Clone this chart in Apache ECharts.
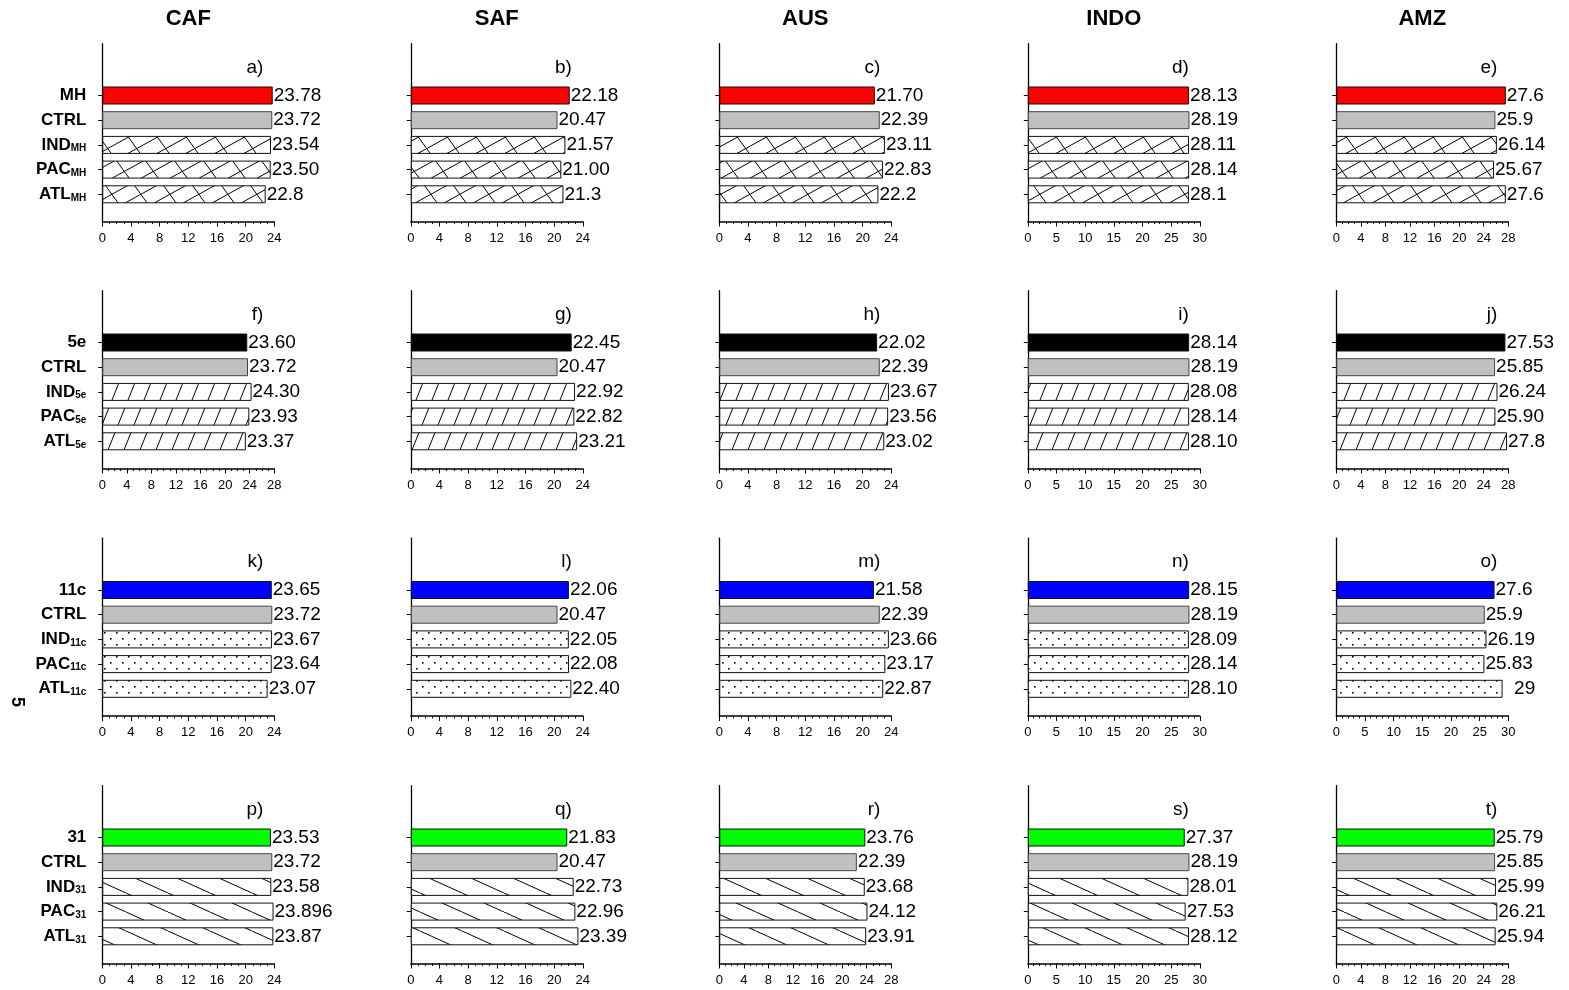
<!DOCTYPE html>
<html>
<head>
<meta charset="utf-8">
<script src="https://cdn.jsdelivr.net/npm/echarts@6/dist/echarts.min.js"></script>
<style>
  html, body { margin: 0; padding: 0; background: #fff; }
  #chart { width: 1569px; height: 990px; }
</style>
</head>
<body>
<div id="chart"></div>
<script>
const regions = ['CAF', 'SAF', 'AUS', 'INDO', 'AMZ']
const experiments = ['MH', '5e', '11c', '31']
const panelLetters = 'abcdefghijklmnopqrst'.split('')

// bar values as printed next to each bar: [exp, CTRL, IND, PAC, ATL] per region
const valuesMH = [
  ['23.78', '23.72', '23.54', '23.50', '22.8'],
  ['22.18', '20.47', '21.57', '21.00', '21.3'],
  ['21.70', '22.39', '23.11', '22.83', '22.2'],
  ['28.13', '28.19', '28.11', '28.14', '28.1'],
  ['27.6', '25.9', '26.14', '25.67', '27.6']
]
const values5e = [
  ['23.60', '23.72', '24.30', '23.93', '23.37'],
  ['22.45', '20.47', '22.92', '22.82', '23.21'],
  ['22.02', '22.39', '23.67', '23.56', '23.02'],
  ['28.14', '28.19', '28.08', '28.14', '28.10'],
  ['27.53', '25.85', '26.24', '25.90', '27.8']
]
const values11c = [
  ['23.65', '23.72', '23.67', '23.64', '23.07'],
  ['22.06', '20.47', '22.05', '22.08', '22.40'],
  ['21.58', '22.39', '23.66', '23.17', '22.87'],
  ['28.15', '28.19', '28.09', '28.14', '28.10'],
  ['27.6', '25.9', '26.19', '25.83', '  29']
]
const values31 = [
  ['23.53', '23.72', '23.58', '23.896', '23.87'],
  ['21.83', '20.47', '22.73', '22.96', '23.39'],
  ['23.76', '22.39', '23.68', '24.12', '23.91'],
  ['27.37', '28.19', '28.01', '27.53', '28.12'],
  ['25.79', '25.85', '25.99', '26.21', '25.94']
]
const rowValues = [valuesMH, values5e, values11c, values31]

// x axis maximum of each panel
const axisMax = [
  [24, 24, 24, 30, 28],
  [28, 24, 24, 30, 28],
  [24, 24, 24, 30, 30],
  [24, 24, 28, 30, 28]
]

const expColors = ['#ff0000', '#000000', '#0000ff', '#00ff00']
const ctrlColor = '#c0c0c0'
const hatchKinds = ['cross', 'slash', 'dots', 'back']

// layout
const colLeft = c => 102.3 + 308.5 * c
const plotWidth = 172
const firstBarY = [95.5, 342.5, 590, 837.5]
const slot = 24.7
const unit = slot / 5
const nCats = 36
const barIdx = [10, 15, 20, 25, 30]
const font = "'Liberation Sans', Arial, Helvetica, sans-serif"

// hatch fills
function makePattern(kind) {
  const cv = document.createElement('canvas')
  let w, h
  if (kind === 'cross') { w = 29; h = 80 }
  else if (kind === 'slash') { w = 16; h = 40 }
  else if (kind === 'dots') { w = 12; h = 12 }
  else { w = 42; h = 19 }
  cv.width = w
  cv.height = h
  const ctx = cv.getContext('2d')
  ctx.fillStyle = '#fff'
  ctx.fillRect(0, 0, w, h)
  ctx.strokeStyle = '#000'
  ctx.fillStyle = '#000'
  ctx.lineWidth = 1
  const lines = (shift, rising) => {
    for (let k = -8; k <= 8; k++) {
      const x0 = k * w
      ctx.beginPath()
      if (rising) { ctx.moveTo(x0, h); ctx.lineTo(x0 + shift, 0) }
      else { ctx.moveTo(x0, 0); ctx.lineTo(x0 + shift, h) }
      ctx.stroke()
    }
  }
  if (kind === 'cross') {
    lines(2 * w, false)
    lines(5 * w, true)
  } else if (kind === 'slash') {
    lines(w, true)
  } else if (kind === 'back') {
    lines(w, false)
  } else {
    ctx.fillRect(2, 2, 1.6, 1.6)
    ctx.fillRect(8, 8, 1.6, 1.6)
  }
  return { image: cv, repeat: 'repeat' }
}
const patterns = hatchKinds.map(makePattern)

const catNames = r => {
  const s = experiments[r]
  return ['{n|' + s + '}', '{n|CTRL}', '{n|IND}{s|' + s + '}', '{n|PAC}{s|' + s + '}', '{n|ATL}{s|' + s + '}']
}

const grids = []
const xAxes = []
const yAxes = []
const series = []
const graphics = []

regions.forEach((name, c) => {
  graphics.push({
    type: 'text', x: colLeft(c) + 86, y: 19,
    style: { text: name, fontSize: 22, fontWeight: 'bold', fontFamily: font, fill: '#000', align: 'center', verticalAlign: 'middle' }
  })
})

for (let r = 0; r < 4; r++) {
  const names = catNames(r)
  const cats = []
  for (let i = 0; i < nCats; i++) {
    const k = barIdx.indexOf(i)
    cats.push(k >= 0 ? names[k] : '_' + i)
  }
  for (let c = 0; c < 5; c++) {
    const p = r * 5 + c
    const top = firstBarY[r] - 10.5 * unit
    grids.push({ left: colLeft(c), top: top, width: plotWidth, height: nCats * unit })
    const max = axisMax[r][c]
    const step = max === 30 ? 5 : 4
    xAxes.push({
      type: 'value', gridIndex: p, min: 0, max: max, interval: step,
      axisLine: { show: true, lineStyle: { color: '#000', width: 1.5 } },
      axisTick: { show: true, length: 5, lineStyle: { color: '#000', width: 1 } },
      minorTick: { show: true, splitNumber: step, length: 2.5, lineStyle: { color: '#000', width: 1 } },
      axisLabel: { fontSize: 13, color: '#000', margin: 10, fontFamily: font },
      splitLine: { show: false }
    })
    yAxes.push({
      type: 'category', gridIndex: p, inverse: true, data: cats,
      axisLine: { show: true, lineStyle: { color: '#000', width: 1.3 } },
      axisTick: { show: true, length: 4, alignWithLabel: true, interval: (i) => barIdx.includes(i), lineStyle: { color: '#000' } },
      axisLabel: {
        show: c === 0, interval: (i) => barIdx.includes(i), margin: 16, color: '#000',
        formatter: v => v,
        rich: {
          n: { fontSize: 17, fontWeight: 'bold', fontFamily: font, lineHeight: 17, verticalAlign: 'top', color: '#000' },
          s: { fontSize: 10, fontWeight: 'bold', fontFamily: font, lineHeight: 9, verticalAlign: 'bottom', color: '#000' }
        }
      }
    })
    const vals = rowValues[r][c]
    const data = new Array(nCats).fill(null)
    vals.forEach((t, k) => {
      let fill
      if (k === 0) fill = expColors[r]
      else if (k === 1) fill = ctrlColor
      else fill = patterns[r]
      data[barIdx[k]] = {
        value: Number(t), text: t,
        itemStyle: { color: fill, borderColor: k === 1 ? '#444' : '#111', borderWidth: 1 }
      }
    })
    series.push({
      type: 'bar', xAxisIndex: p, yAxisIndex: p, barWidth: 18, data: data,
      silent: true, animation: false,
      label: {
        show: true, position: 'right', distance: 1, fontSize: 19, color: '#000', fontFamily: font,
        formatter: prm => prm.data ? prm.data.text : ''
      }
    })
    graphics.push({
      type: 'text', x: colLeft(c) + 161, y: firstBarY[r] - 28,
      style: { text: panelLetters[p] + ')', fontSize: 19, fontFamily: font, fill: '#000', align: 'right', verticalAlign: 'middle' }
    })
  }
}

graphics.push({
  type: 'text', x: 17, y: 702, rotation: -Math.PI / 2,
  style: { text: '5', fontSize: 18, fontWeight: 'bold', fontFamily: font, fill: '#000', align: 'center', verticalAlign: 'middle' }
})

const chart = echarts.init(document.getElementById('chart'), null, { renderer: 'canvas' })
chart.setOption({
  backgroundColor: '#fff',
  animation: false,
  textStyle: { fontFamily: font },
  grid: grids,
  xAxis: xAxes,
  yAxis: yAxes,
  series: series,
  graphic: graphics
})
</script>
</body>
</html>
